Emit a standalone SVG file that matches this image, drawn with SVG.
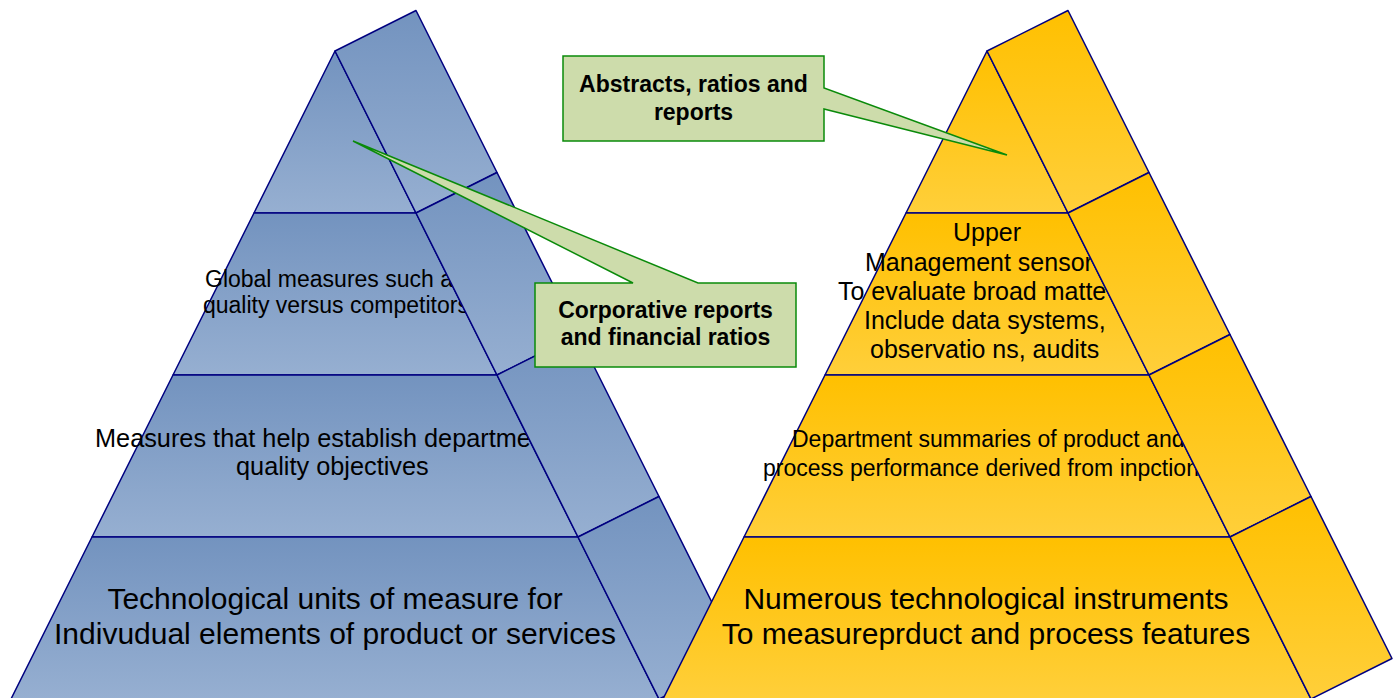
<svg xmlns="http://www.w3.org/2000/svg" width="1397" height="698" viewBox="0 0 1397 698">
<defs>
<linearGradient id="blue" x1="0" y1="0" x2="0" y2="1">
<stop offset="0" stop-color="#7393bf"/>
<stop offset="1" stop-color="#96afd1"/>
</linearGradient>
<linearGradient id="gold" x1="0" y1="0" x2="0" y2="1">
<stop offset="0" stop-color="#ffc000"/>
<stop offset="1" stop-color="#ffcf3a"/>
</linearGradient>
<style>
.b{fill:url(#blue);stroke:#000080;stroke-width:1.5;stroke-linejoin:round}
.g{fill:url(#gold);stroke:#000080;stroke-width:1.5;stroke-linejoin:round}
.t{font-family:"Liberation Sans",Arial,sans-serif;fill:#000}
.c{fill:#cddcab;stroke:#0a8a0a;stroke-width:1.5;stroke-linejoin:miter}
.ct{font-family:"Liberation Sans",Arial,sans-serif;font-weight:bold;font-size:23px;fill:#000;text-anchor:middle}
</style>
</defs>
<rect width="1397" height="698" fill="#fff"/>
<g id="left-pyramid">
<g id="left-layer1">
<polygon class="b" points="335,51 416,213 254,213"/>
<polygon class="b" points="335,51 416,10.5 497,172.5 416,213"/>
</g>
<g id="left-layer2">
<polygon class="b" points="254,213 416,213 497,375 173,375"/>
<text class="t" font-size="23" x="205" y="287">Global measures such a</text>
<text class="t" font-size="23" x="203" y="313">quality versus competitors</text>
<polygon class="b" points="416,213 497,172.5 578,334.5 497,375"/>
</g>
<g id="left-layer3">
<polygon class="b" points="173,375 497,375 578,537 92,537"/>
<text class="t" font-size="25.3" x="95" y="447">Measures that help establish departme</text>
<text class="t" font-size="25.3" x="236" y="475">quality objectives</text>
<polygon class="b" points="497,375 578,334.5 659,496.5 578,537"/>
</g>
<g id="left-layer4">
<polygon class="b" points="92,537 578,537 659,699 11,699"/>
<text class="t" font-size="30" x="335" y="609" text-anchor="middle">Technological units of measure for</text>
<text class="t" font-size="30" x="335" y="644" text-anchor="middle">Indivudual elements of product or services</text>
<polygon class="b" points="578,537 659,496.5 740,658.5 659,699"/>
</g>
</g>
<g id="right-pyramid">
<g id="right-layer1">
<polygon class="g" points="987,51 1068,213 906,213"/>
<polygon class="g" points="987,51 1068,10.5 1149,172.5 1068,213"/>
</g>
<g id="right-layer2">
<polygon class="g" points="906,213 1068,213 1149,375 825,375"/>
<text class="t" font-size="25" x="987" y="241" text-anchor="middle">Upper</text>
<text class="t" font-size="25" x="865" y="271">Management sensor</text>
<text class="t" font-size="25" x="838" y="300">To evaluate broad matte</text>
<text class="t" font-size="25" x="864" y="329">Include data systems,</text>
<text class="t" font-size="25" x="870" y="358">observatio ns, audits</text>
<polygon class="g" points="1068,213 1149,172.5 1230,334.5 1149,375"/>
</g>
<g id="right-layer3">
<polygon class="g" points="825,375 1149,375 1230,537 744,537"/>
<text class="t" font-size="23" x="792" y="447">Department summaries of product and</text>
<text class="t" font-size="23" x="763" y="476">process performance derived from inpction</text>
<polygon class="g" points="1149,375 1230,334.5 1311,496.5 1230,537"/>
</g>
<g id="right-layer4">
<polygon class="g" points="744,537 1230,537 1311,699 663,699"/>
<text class="t" font-size="30" x="986" y="609" text-anchor="middle">Numerous technological instruments</text>
<text class="t" font-size="30" x="986" y="644" text-anchor="middle">To measureprduct and process features</text>
<polygon class="g" points="1230,537 1311,496.5 1392,658.5 1311,699"/>
</g>
</g>
<g id="connectors"></g>
<g id="callout-corporative">
<polygon class="c" points="535,283 633,283 353,141 698,283 796,283 796,367 535,367"/>
<text class="ct" x="665.5" y="318">Corporative reports</text>
<text class="ct" x="665.5" y="345">and financial ratios</text>
</g>
<g id="callout-abstracts">
<polygon class="c" points="563,56 824,56 824,88 1007,155 824,109 824,141 563,141"/>
<text class="ct" x="693.5" y="92">Abstracts, ratios and</text>
<text class="ct" x="693.5" y="120">reports</text>
</g>
</svg>
